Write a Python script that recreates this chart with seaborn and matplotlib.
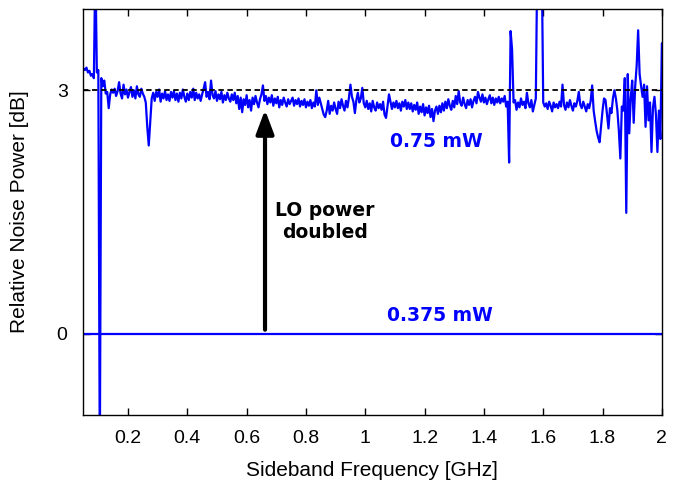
import numpy as np
import pandas as pd
import matplotlib
matplotlib.use("Agg")
import matplotlib.pyplot as plt
import seaborn as sns

# ---------------- data ----------------
freq_start, freq_step = 0.05, 0.005
noise_075_db = [
    3.27, 3.25, 3.28, 3.22, 3.24, 3.18, 3.20, 3.15, 4.60, 3.22, 3.25, -1.60, 3.15, 3.05, 3.12, 2.96, 2.98, 2.78, 2.95, 3.01,
    2.97, 3.02, 2.93, 2.99, 3.10, 2.96, 2.90, 3.07, 2.95, 3.01, 2.91, 2.98, 3.04, 2.92, 3.00, 2.90, 3.05, 2.95, 2.92, 3.02,
    2.96, 2.92, 2.85, 2.55, 2.32, 2.62, 2.90, 2.97, 2.87, 2.98, 2.92, 3.01, 2.86, 2.96, 2.90, 2.99, 2.88, 2.95, 2.87, 2.98,
    2.91, 2.99, 2.88, 2.96, 2.86, 2.97, 2.90, 3.01, 2.92, 2.86, 2.96, 2.88, 2.98, 2.91, 3.02, 2.88, 2.97, 2.90, 2.95, 2.87,
    2.95, 3.02, 3.10, 2.92, 2.98, 2.89, 3.12, 2.94, 2.90, 2.99, 2.87, 2.95, 2.89, 2.98, 2.85, 2.94, 2.88, 2.97, 2.90, 2.86,
    2.95, 2.88, 2.97, 2.84, 2.93, 2.77, 2.91, 2.73, 2.89, 2.82, 2.94, 2.79, 2.88, 2.75, 2.91, 2.83, 2.93, 2.85, 2.79, 2.89,
    2.95, 3.06, 2.87, 2.93, 2.83, 2.91, 2.85, 2.94, 2.81, 2.90, 2.84, 2.92, 2.79, 2.88, 2.82, 2.91, 2.85, 2.80, 2.89, 2.83,
    2.87, 2.91, 2.81, 2.88, 2.83, 2.90, 2.80, 2.87, 2.82, 2.89, 2.79, 2.86, 2.81, 2.88, 2.78, 2.85, 2.80, 3.00, 2.82, 2.91,
    2.84, 2.77, 2.70, 2.67, 2.75, 2.87, 2.71, 2.81, 2.75, 2.85, 2.77, 2.71, 2.86, 2.78, 2.89, 2.81, 2.75, 2.87, 2.79, 2.91,
    3.07, 2.92, 2.86, 2.72, 2.88, 2.97, 2.85, 2.90, 3.03, 2.84, 2.79, 2.87, 2.77, 2.84, 2.74, 2.87, 2.79, 2.75, 2.85, 2.78,
    2.83, 2.76, 2.86, 2.70, 2.66, 2.80, 2.95, 2.86, 2.77, 2.85, 2.79, 2.87, 2.78, 2.84, 2.75, 2.86, 2.80, 2.88, 2.77, 2.85,
    2.77, 2.84, 2.74, 2.82, 2.76, 2.85, 2.71, 2.80, 2.73, 2.83, 2.69, 2.79, 2.72, 2.81, 2.67, 2.77, 2.62, 2.75, 2.80, 2.71,
    2.81, 2.73, 2.84, 2.75, 2.86, 2.78, 2.89, 2.81, 2.76, 2.87, 2.79, 2.93, 2.83, 2.99, 2.85, 2.81, 2.91, 2.83, 2.78, 2.88,
    2.82, 2.89, 2.79, 2.87, 2.92, 2.84, 2.98, 2.91, 2.86, 2.95, 2.85, 2.91, 2.83, 2.89, 2.94, 2.84, 2.91, 2.82, 2.90, 2.85,
    2.92, 2.84, 2.90, 2.86, 2.93, 2.80, 2.86, 2.11, 3.73, 3.50, 2.85, 2.88, 2.76, 2.85, 2.79, 2.90, 2.82, 2.86, 2.78, 2.97,
    2.84, 2.79, 2.88, 2.74, 2.82, 2.90, 4.60, 5.00, 5.00, 4.60, 2.85, 2.80, 2.84, 2.77, 2.86, 2.81, 2.74, 2.85, 2.79, 2.83,
    2.78, 2.86, 2.80, 3.07, 2.82, 2.76, 2.85, 2.79, 2.88, 2.81, 2.75, 2.84, 2.80, 2.87, 2.98, 2.82, 2.78, 2.86, 2.80, 2.74,
    2.83, 2.78, 2.87, 3.06, 2.75, 2.62, 2.50, 2.42, 2.36, 2.55, 2.75, 2.90, 2.88, 2.70, 2.53, 2.78, 2.72, 2.90, 3.00, 2.90,
    2.75, 2.50, 2.16, 2.80, 2.75, 3.15, 1.49, 3.20, 2.47, 2.90, 3.12, 2.60, 3.05, 3.30, 3.74, 3.20, 3.05, 2.92, 3.07, 2.55,
    3.05, 2.63, 2.85, 2.24, 2.79, 2.92, 2.70, 2.24, 2.75, 2.40, 3.58,
]
freq_ghz = np.round(freq_start + freq_step * np.arange(len(noise_075_db)), 4)

ref_freq_ghz = [0.05, 2.0]
noise_0375_db = [0.0, 0.0]
target_db = 3.0

x_ticks = [0.2, 0.4, 0.6, 0.8, 1.0, 1.2, 1.4, 1.6, 1.8, 2.0]
x_tick_labels = ["0.2", "0.4", "0.6", "0.8", "1", "1.2", "1.4", "1.6", "1.8", "2"]
y_ticks = [0, 3]
y_tick_labels = ["0", "3"]

df_075 = pd.DataFrame({"freq": freq_ghz, "noise": noise_075_db})
df_0375 = pd.DataFrame({"freq": ref_freq_ghz, "noise": noise_0375_db})

# ---------------- plot ----------------
sns.set_theme(style="ticks")
plt.rcParams["font.family"] = ["Liberation Sans", "DejaVu Sans"]
plt.rcParams["text.color"] = "black"
plt.rcParams["axes.labelcolor"] = "black"

fig = plt.figure(figsize=(6.74, 4.83), dpi=100)
ax = fig.add_axes([0.123, 0.141, 0.859, 0.840])

blue = "#0000ff"
sns.lineplot(data=df_075, x="freq", y="noise", ax=ax, color=blue, lw=1.6,
             estimator=None, sort=False)
sns.lineplot(data=df_0375, x="freq", y="noise", ax=ax, color=blue, lw=1.6,
             estimator=None, sort=False)
ax.axhline(target_db, color="black", lw=1.3, ls=(0, (3, 2)), zorder=3)

ax.annotate("", xy=(0.662, 2.76), xytext=(0.662, 0.05),
            arrowprops=dict(arrowstyle="-|>,head_length=1.2,head_width=0.45",
                            color="black", lw=3, shrinkA=0, shrinkB=0))
bold = dict(fontweight="bold", family=["DejaVu Sans"], fontsize=13.5,
            ha="center", va="center")
ax.text(0.865, 1.38, "LO power\ndoubled", color="black", linespacing=1.2, **bold)
ax.text(1.24, 2.37, "0.75 mW", color=blue, **bold)
ax.text(1.25, 0.22, "0.375 mW", color=blue, **bold)

ax.set_xlim(0.048, 2.0)
ax.set_ylim(-1, 4)
ax.set_xticks(x_ticks)
ax.set_xticklabels(x_tick_labels)
ax.set_yticks(y_ticks)
ax.set_yticklabels(y_tick_labels)
ax.tick_params(direction="in", length=5, width=1, top=True, right=True,
               labelsize=14, colors="black", pad=11)
ax.set_xlabel("Sideband Frequency [GHz]", fontsize=15, labelpad=10)
ax.set_ylabel("Relative Noise Power [dB]", fontsize=15, labelpad=20)
for s in ax.spines.values():
    s.set_visible(True)
    s.set_linewidth(1.0)
    s.set_color("black")

fig.savefig("out.png", dpi=100)
